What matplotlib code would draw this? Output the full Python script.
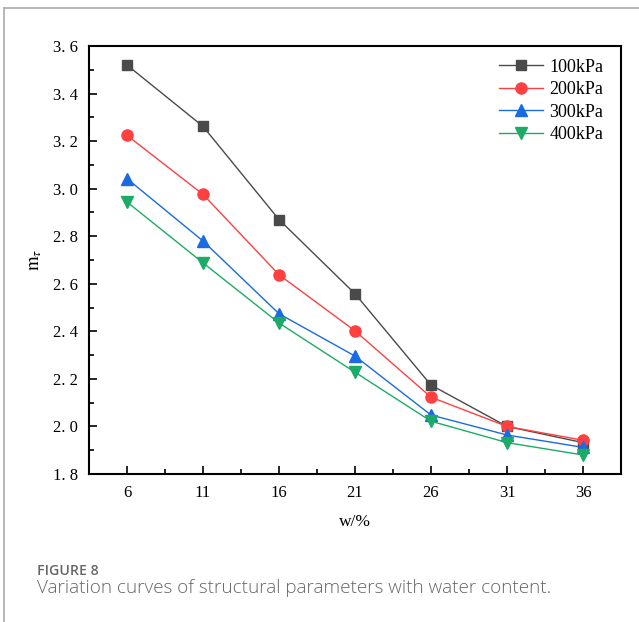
import matplotlib.pyplot as plt
from matplotlib.lines import Line2D
from matplotlib.ticker import MultipleLocator

# water content (%) and structural parameter m_t for each confining pressure
w = [6, 11, 16, 21, 26, 31, 36]
m_100 = [3.52, 3.262, 2.87, 2.558, 2.174, 2.00, 1.932]
m_200 = [3.224, 2.976, 2.638, 2.402, 2.123, 2.00, 1.942]
m_300 = [3.042, 2.78, 2.474, 2.296, 2.048, 1.964, 1.912]
m_400 = [2.944, 2.688, 2.435, 2.228, 2.022, 1.932, 1.88]
labels = ['100kPa', '200kPa', '300kPa', '400kPa']

plt.rcParams['font.family'] = ['Liberation Serif', 'DejaVu Serif']
plt.rcParams['mathtext.fontset'] = 'stix'

fig = plt.figure(figsize=(6.39, 6.22), dpi=100)
W, H = 639, 622
ax = fig.add_axes([89 / W, 1 - 474 / H, (621 - 89) / W, (474 - 46) / H])

styles = [('#4a4a4a', 's', 7.5), ('#ff4040', 'o', 8), ('#1a6be0', '^', 8.5), ('#1cab66', 'v', 8.5)]
series = [m_100, m_200, m_300, m_400]
for y, lab, (c, mk, ms) in zip(series, labels, styles):
    ax.plot(w, y, color=c, marker=mk, markersize=ms, linewidth=1.0, label=lab)

ax.set_xlim(3.5, 38.5)
ax.set_ylim(1.8, 3.6)
ax.set_xticks(w)
ax.set_xticks([a + 2.5 for a in w[:-1]], minor=True)
ax.yaxis.set_major_locator(MultipleLocator(0.2))
ax.yaxis.set_minor_locator(MultipleLocator(0.1))
ax.yaxis.set_major_formatter(plt.FuncFormatter(lambda v, p: f'{v:.1f}'.replace('.', '. ')))
ax.tick_params(which='both', direction='in', top=False, right=False, labelsize=12, width=1.2)
ax.tick_params(which='major', length=6, pad=8)
ax.tick_params(which='minor', length=3.5)
for s in ax.spines.values():
    s.set_linewidth(1.5)

ax.set_xlabel('w/%', fontsize=12.5, labelpad=9)
ax.set_ylabel(r'$\mathrm{m}_{\tau}$', fontsize=13.5, labelpad=6)

ax.legend(loc='upper right', frameon=False, fontsize=13, handlelength=2.4,
          labelspacing=0.3, handletextpad=0.35, borderaxespad=0.0, bbox_to_anchor=(0.98, 0.987))

# page border and caption
fig.add_artist(Line2D([4 / W, 1], [1 - 8 / H, 1 - 8 / H], color='#aaaaaa', linewidth=1.2))
fig.add_artist(Line2D([4 / W, 4 / W], [0, 1 - 8 / H], color='#aaaaaa', linewidth=1.2))
fig.text(37 / W, 1 - 571 / H, 'FIGURE 8', fontsize=10.2, color='#666666', va='center',
         family=['Open Sans', 'DejaVu Sans'], fontweight='semibold')
fig.text(37 / W, 1 - 588 / H, 'Variation curves of structural parameters with water content.',
         fontsize=13.6, color='#666666', va='center', family=['Open Sans', 'DejaVu Sans'], fontweight='light')

fig.savefig('out.png', dpi=100)
